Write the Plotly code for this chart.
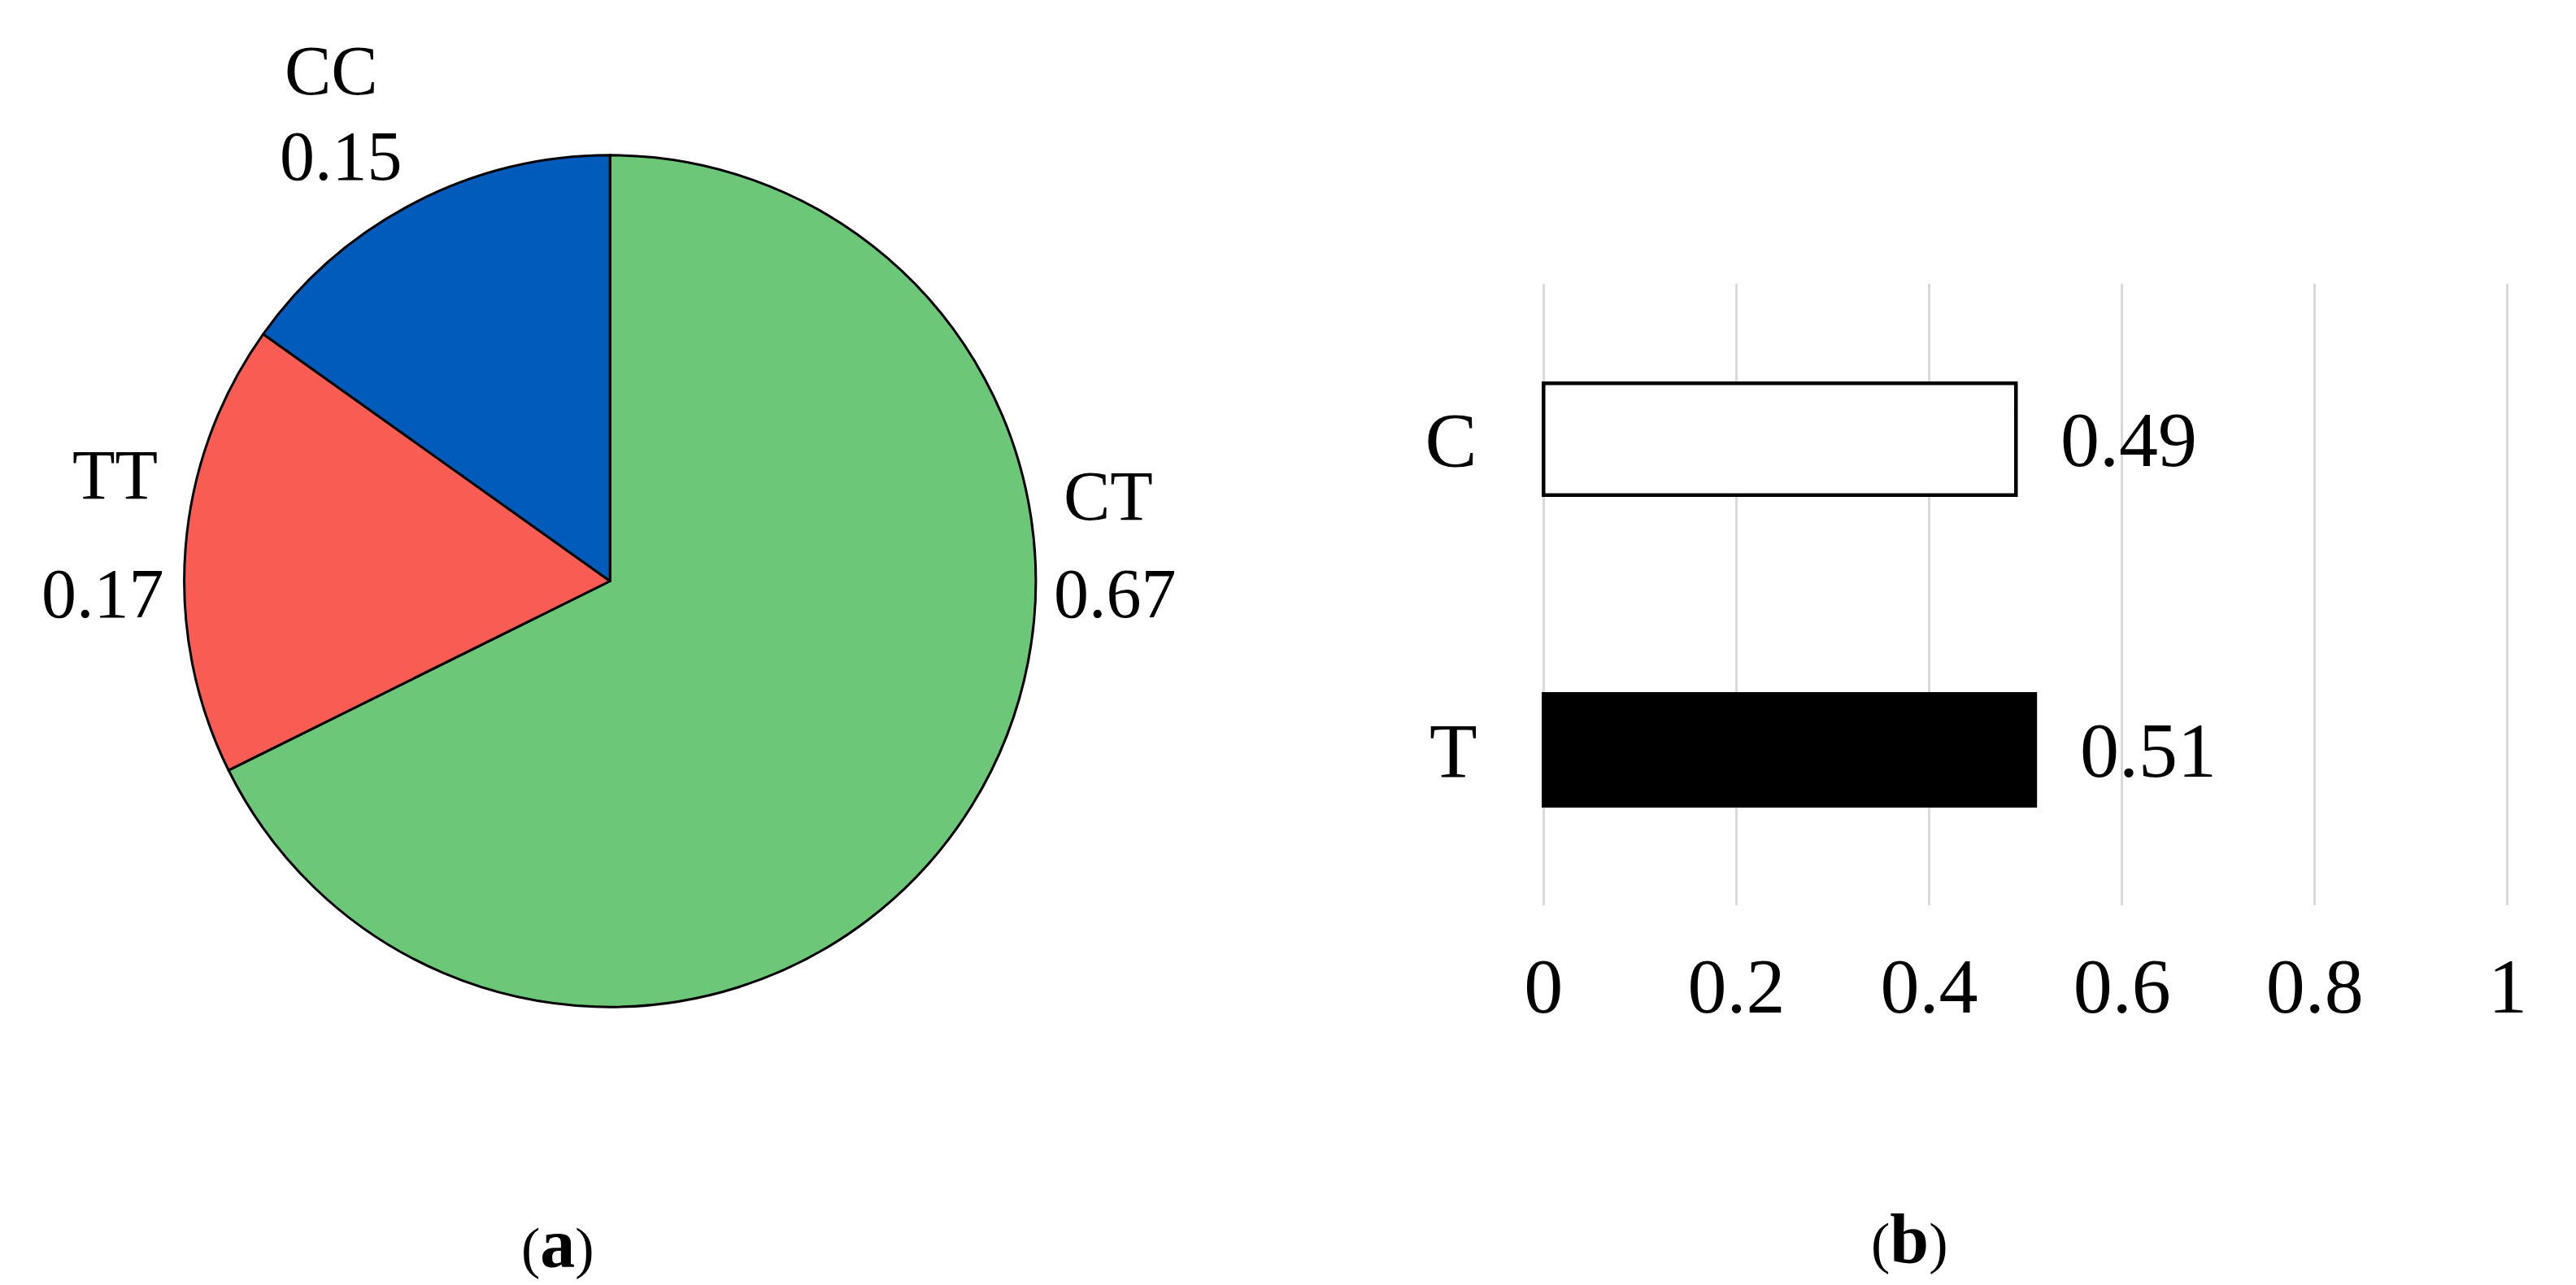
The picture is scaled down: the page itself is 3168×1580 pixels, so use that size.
import plotly.graph_objects as go

W, H = 3168, 1580

# genotype frequencies (panel a)
geno_labels = ["CT", "TT", "CC"]
geno_freq = [0.67, 0.17, 0.15]
geno_colors = ["#6CC878", "#F85C53", "#005BBB"]

# allele frequencies (panel b)
allele_labels = ["C", "T"]
allele_freq = [0.49, 0.51]
allele_fill = ["white", "black"]

x_ticks = [0, 0.2, 0.4, 0.6, 0.8, 1]
x_ticktext = ["0", "0.2", "0.4", "0.6", "0.8", "1"]

FONT = "Liberation Serif"
PIE_FS = 86
BAR_FS = 96


def px(x):
    return x / W


def py(y):
    return 1 - y / H


fig = go.Figure()

fig.add_trace(go.Pie(
    labels=geno_labels,
    values=geno_freq,
    sort=False,
    direction="clockwise",
    rotation=0,
    marker=dict(colors=geno_colors, line=dict(color="black", width=3)),
    textinfo="none",
    hoverinfo="label+value",
    domain=dict(x=[px(202), px(1262)], y=[py(1236), py(177)]),
    showlegend=False,
))

fig.add_trace(go.Bar(
    x=allele_freq,
    y=allele_labels,
    orientation="h",
    width=0.36,
    marker=dict(color=allele_fill, line=dict(color="black", width=4.5)),
    showlegend=False,
))

# pie labels, placed like the original (name line and value line)
name_pos = {"CC": (385, 79), "CT": (1352, 602), "TT": (116, 576)}
value_pos = {"CC": (397, 184), "CT": (1361, 722), "TT": (101, 722)}

annotations = []
for lab, val in zip(geno_labels, geno_freq):
    nx, ny = name_pos[lab]
    vx, vy = value_pos[lab]
    annotations.append(dict(x=px(nx), y=py(ny), xref="paper", yref="paper",
                            text=lab, font=dict(size=PIE_FS), showarrow=False,
                            xanchor="center", yanchor="middle"))
    annotations.append(dict(x=px(vx), y=py(vy), xref="paper", yref="paper",
                            text=f"{val:.2f}", font=dict(size=PIE_FS), showarrow=False,
                            xanchor="center", yanchor="middle"))

# bar value labels
for lab, val in zip(allele_labels, allele_freq):
    annotations.append(dict(x=val, y=lab, xref="x", yref="y", text=f"{val:.2f}",
                            font=dict(size=BAR_FS), showarrow=False,
                            xanchor="left", yanchor="middle", xshift=53))

# panel captions
for cap, cx, cy in (("a", 667, 1521), ("b", 2349, 1515)):
    annotations.append(dict(x=px(cx), y=py(cy), xref="paper", yref="paper",
                            text=f"(<span style='font-size:86px'><b>{cap}</b></span>)",
                            font=dict(size=70), showarrow=False,
                            xanchor="center", yanchor="middle"))

fig.update_layout(
    width=W, height=H,
    margin=dict(l=0, r=0, t=0, b=0),
    paper_bgcolor="white",
    plot_bgcolor="white",
    font=dict(family=FONT, size=BAR_FS, color="black"),
    annotations=annotations,
    xaxis=dict(
        domain=[px(1889.2), px(3098.8)],
        range=[-0.004, 1.004],
        tickvals=x_ticks,
        ticktext=x_ticktext,
        tickfont=dict(size=BAR_FS),
        showgrid=True, gridcolor="#D9D9D9", gridwidth=3,
        zeroline=False, showline=False,
        ticks="", ticklabelstandoff=35,
        fixedrange=True,
    ),
    yaxis=dict(
        domain=[py(1105), py(341)],
        range=[1.5, -0.5],
        type="category",
        tickfont=dict(size=BAR_FS),
        showgrid=False, zeroline=False, showline=False,
        ticks="", ticklabelstandoff=76,
        fixedrange=True,
    ),
)

fig.write_html("out.html")
